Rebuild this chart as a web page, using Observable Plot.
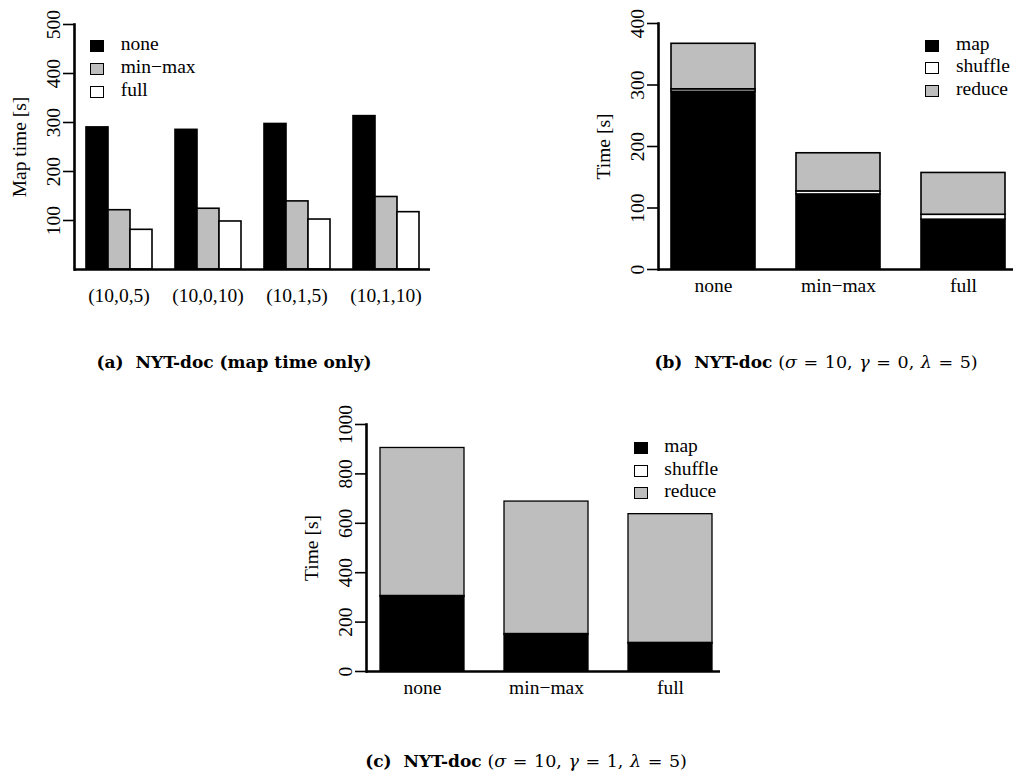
<!DOCTYPE html>
<html><head><meta charset="utf-8">
<script src="https://cdn.jsdelivr.net/npm/d3@7"></script>
<script src="https://cdn.jsdelivr.net/npm/@observablehq/plot@0.6"></script>
<style>
body{margin:0;background:#fff;}
#root{position:relative;width:1013px;height:774px;overflow:hidden;background:#fff;font-family:"Liberation Serif",serif;color:#000;}
.panel{position:absolute;}
.panel svg{overflow:visible;}
.lrow{position:absolute;height:19.5px;line-height:19.5px;font-size:19.5px;white-space:nowrap;}
.sw{position:absolute;width:14px;height:12px;box-sizing:border-box;border:1.8px solid #000;}
.cap{position:absolute;font-family:"DejaVu Serif",serif;font-weight:bold;font-size:17px;line-height:17px;white-space:nowrap;transform:translateX(-50%);}
.cap .m{font-weight:normal;font-size:17.5px;word-spacing:1px;}
</style></head><body><div id="root"></div>
<script>
// ---------- data ----------
const groupsA = ["(10,0,5)", "(10,0,10)", "(10,1,5)", "(10,1,10)"];
const schemes = ["none", "min\u2212max", "full"];
const mapNone = [290, 285, 297, 313];
const mapMinMax = [121, 124, 139, 148];
const mapFull = [81, 98, 102, 117];

const phases = ["map", "shuffle", "reduce"];
const bMap = [289, 122, 81];
const bShuffle = [4, 5, 8];
const bReduce = [74, 62, 68];

const cMap = [302, 148, 112];
const cShuffle = [4, 4, 4];
const cReduce = [599, 536, 521];

const ticksA = [100, 200, 300, 400, 500];
const ticksB = [0, 100, 200, 300, 400];
const ticksC = [0, 200, 400, 600, 800, 1000];

const schemeColors = ["#000000", "#bebebe", "#ffffff"];
const phaseColors = ["#000000", "#ffffff", "#bebebe"];

// ---------- tables ----------
const seriesA = [mapNone, mapMinMax, mapFull];
const dataA = groupsA.flatMap((g, i) => schemes.map((s, j) => ({group: g, scheme: s, value: seriesA[j][i]})));
const stackB = [bMap, bShuffle, bReduce];
const dataB = schemes.flatMap((c, i) => phases.map((p, j) => ({cat: c, phase: p, value: stackB[j][i]})));
const stackC = [cMap, cShuffle, cReduce];
const dataC = schemes.flatMap((c, i) => phases.map((p, j) => ({cat: c, phase: p, value: stackC[j][i]})));

const root = document.getElementById("root");
const baseStyle = {fontFamily: '"Liberation Serif", serif', fontSize: "19.5px", color: "#000", background: "transparent", overflow: "visible"};

function place(node, left, top) {
  const d = document.createElement("div");
  d.className = "panel";
  d.style.left = left + "px";
  d.style.top = top + "px";
  d.appendChild(node);
  root.appendChild(d);
}

function yAxis(ticks, label) {
  return Plot.axisY({ticks, tickFormat: d => String(d), tickSize: 11, tickPadding: 4, tickRotate: -90, strokeWidth: 1.6,
    label, labelAnchor: "center", labelArrow: "none", labelOffset: 62});
}

// ---------- panel (a) ----------
const chartA = Plot.plot({
  width: 450, height: 320, marginLeft: 74, marginRight: 20, marginTop: 24, marginBottom: 51,
  style: baseStyle,
  fx: {domain: groupsA, paddingInner: 0, paddingOuter: 0, label: null},
  x: {domain: schemes, paddingInner: 0, paddingOuter: 0.493, axis: null},
  y: {domain: [0, 500], axis: null},
  color: {domain: schemes, range: schemeColors},
  marks: [
    Plot.barY(dataA, {fx: "group", x: "scheme", y: "value", fill: "scheme", stroke: "#000", strokeWidth: 1.6}),
    Plot.ruleY([0], {strokeWidth: 2.6}),
    yAxis(ticksA, "Map time [s]"),
    Plot.frame({anchor: "left", strokeWidth: 2.6, facetAnchor: "left"}),
    Plot.axisFx({anchor: "bottom", tickSize: 0, tickPadding: 19, label: null})
  ]
});
place(chartA, 0, 0);

// ---------- panels (b) and (c) ----------
function stacked(data, yMax, ticks, w, ml, mt, mb, sw) {
  return Plot.plot({
    width: w, height: 320, marginLeft: ml, marginRight: 0, marginTop: mt, marginBottom: mb,
    style: baseStyle,
    x: {domain: schemes, paddingInner: 0.326, paddingOuter: 0.08, align: 0.62},
    y: {domain: [0, yMax]},
    color: {domain: phases, range: phaseColors},
    marks: [
      Plot.barY(data, {x: "cat", y: "value", fill: "phase", stroke: "#000", strokeWidth: sw}),
      Plot.ruleY([0], {strokeWidth: 2.6}),
      yAxis(ticks, "Time [s]"),
      Plot.frame({anchor: "left", strokeWidth: 2.6}),
      Plot.axisX({tickSize: 0, tickPadding: 9, label: null})
    ]
  });
}
place(stacked(dataB, 400, ticksB, 453, 98, 23, 51, 1.6), 560, 0);
place(stacked(dataC, 1000, ticksC, 440, 86, 24, 49, 1.3), 280, 400);

// ---------- legends ----------
function legend(names, colors, sqLeft, textLeft, centers) {
  names.forEach((n, i) => {
    const sq = document.createElement("div");
    sq.className = "sw";
    sq.style.left = sqLeft + "px";
    sq.style.top = (centers[i] - 6) + "px";
    sq.style.background = colors[i];
    root.appendChild(sq);
    const t = document.createElement("div");
    t.className = "lrow";
    t.style.left = textLeft + "px";
    t.style.top = (centers[i] - 12) + "px";
    t.textContent = n;
    root.appendChild(t);
  });
}
legend(schemes, schemeColors, 90, 120.7, [46, 69, 91.5]);
legend(phases, phaseColors, 925, 956, [45.7, 68, 90.7]);
legend(phases, phaseColors, 633.5, 664.3, [448.3, 471, 493.3]);

// ---------- captions ----------
function caption(html, cx, top) {
  const c = document.createElement("div");
  c.className = "cap";
  c.style.left = cx + "px";
  c.style.top = top + "px";
  c.innerHTML = html;
  root.appendChild(c);
}
caption("(a)&nbsp; NYT-doc (map time only)", 234, 353.5);
caption('(b)&nbsp; NYT-doc <span class="m">(<i>σ</i> = 10, <i>γ</i> = 0, <i>λ</i> = 5)</span>', 816, 353.5);
caption('(c)&nbsp; NYT-doc <span class="m">(<i>σ</i> = 10, <i>γ</i> = 1, <i>λ</i> = 5)</span>', 526, 752.5);
</script>
</body></html>
